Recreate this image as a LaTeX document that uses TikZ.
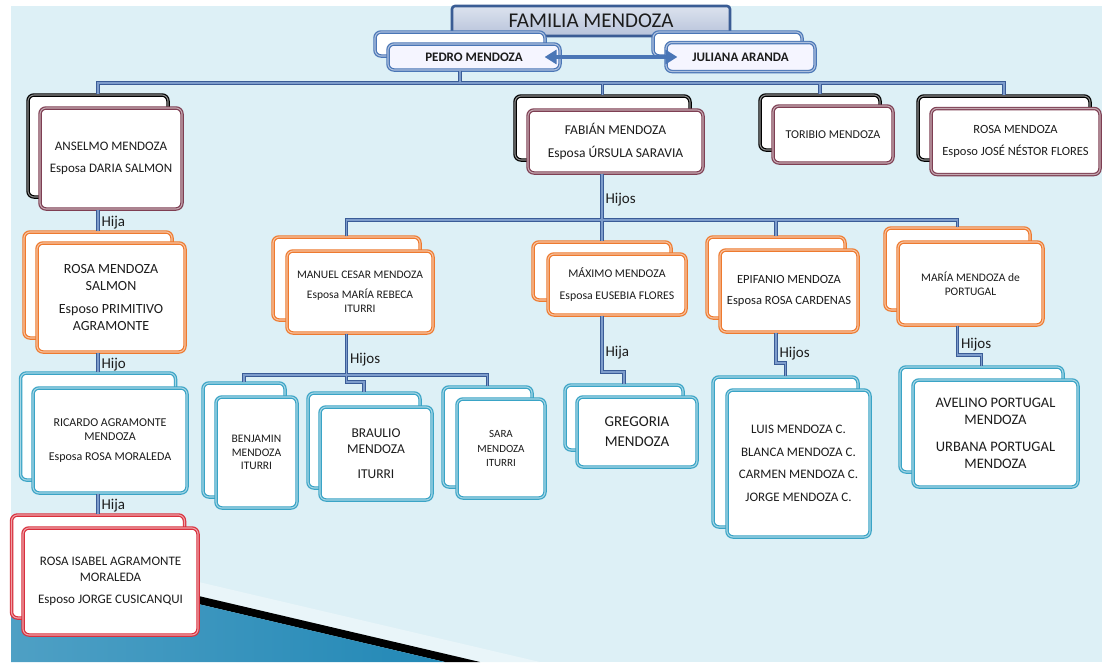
\documentclass[tikz,border=0pt]{standalone}
\usepackage{fontspec}
\setmainfont{Carlito}
\usetikzlibrary{positioning,arrows.meta,calc,backgrounds}
\definecolor{slidebg}{HTML}{DDF0F6}
\definecolor{mzlink}{HTML}{3A5C97}
\definecolor{mzlinkin}{HTML}{7D9CCB}
\definecolor{mzpair}{HTML}{4A76B6}
\definecolor{mztitle}{HTML}{3A5C94}
\definecolor{mztitletop}{HTML}{DCE2EE}
\definecolor{mztitlebot}{HTML}{B7C3DA}
\definecolor{mzmaroon}{HTML}{7E3F53}
\definecolor{mzorange}{HTML}{EE7A2F}
\definecolor{mzcyan}{HTML}{3AA4C6}
\definecolor{mzred}{HTML}{D9303D}
\definecolor{mzteal}{HTML}{2288B6}
\definecolor{mztext}{HTML}{1C1C1C}
\newcommand{\mzsize}[1]{\fontsize{#1}{\fpeval{1.2*#1}}\selectfont}

\begin{document}
\begin{tikzpicture}[
    x=1pt, y=-1pt,
    box/.style={draw=#1, double=#1!45!white, double distance=1.1pt, line width=1.2pt,
        rounded corners=6pt, fill=white, align=center, inner sep=2pt, text=mztext},
    sz/.style={font=\mzsize{#1}},
    titlebox/.style={draw=mztitle, line width=2.6pt, rounded corners=3pt,
        top color=mztitletop, bottom color=mztitlebot, text=mztext},
    link/.style={draw=mzlink, double=mzlinkin, double distance=1.3pt, line width=1.2pt},
    pair/.style={{Triangle[width=14pt,length=12pt]}-{Triangle[width=14pt,length=12pt]},
        draw=mzpair, line width=3.5pt},
    lab/.style={anchor=west, font=\mzsize{15}, text=mztext, inner sep=3pt},
]
\useasboundingbox (0,0) rectangle (1106,662);
\fill[white] (0,0) rectangle (1106,662);

% === Slide background ===
\fill[slidebg] (11,6) rectangle (1102,662);
\fill[white!35!slidebg] (11,538) -- (540,662) -- (480,662) -- (11,552) -- cycle;
\fill[black] (11,552) -- (480,662) -- (445,662) -- (11,560) -- cycle;
\shade[left color=mzteal!80!white, right color=mzteal] (11,560) -- (445,662) -- (11,662) -- cycle;

% === Row 0: title and parents ===
\node[titlebox, minimum width=278pt, minimum height=30pt, font=\mzsize{21}] (title) at (591,21) {FAMILIA MENDOZA};
\node[box=mzpair, minimum width=170pt, minimum height=24pt] (pedrob) at (460,44) {};
\node[box=mzpair, fill=blue!4, minimum width=172pt, minimum height=26pt, font=\mzsize{13}\bfseries] (pedro) at (474,57) {PEDRO MENDOZA};
\node[box=mzpair, minimum width=149pt, minimum height=24pt] (julianab) at (727.5,44) {};
\node[box=mzpair, fill=blue!4, minimum width=149pt, minimum height=29pt, font=\mzsize{13}\bfseries] (juliana) at (740.5,57) {JULIANA ARANDA};
\draw[pair] ([xshift=-16pt]pedro.east) -- ([xshift=12pt]juliana.west);

% === Row 1: children of Pedro ===
\node[box=black, minimum width=140pt, minimum height=102pt] (anselmob) at (98,146) {};
\node[box=mzmaroon, sz=13, minimum width=142pt, minimum height=101pt] (anselmo) at (111,158.5) {ANSELMO MENDOZA\\[6pt]Esposa DARIA SALMON};
\node[box=black, minimum width=175pt, minimum height=64pt] (fabianb) at (602.5,128) {};
\node[box=mzmaroon, sz=13.5, minimum width=175pt, minimum height=63pt] (fabian) at (615.5,141.5) {FABIÁN MENDOZA\\[6pt]Esposa ÚRSULA SARAVIA};
\node[box=black, minimum width=120pt, minimum height=55pt] (toribiob) at (820,122.5) {};
\node[box=mzmaroon, sz=12, minimum width=120pt, minimum height=57pt] (toribio) at (833,134.5) {TORIBIO MENDOZA};
\node[box=black, minimum width=172pt, minimum height=64pt] (rosab) at (1004,128) {};
\node[box=mzmaroon, sz=12.5, minimum width=169pt, minimum height=66pt] (rosa) at (1015.5,141.5) {ROSA MENDOZA\\[7pt]Esposo JOSÉ NÉSTOR FLORES};

% === Row 2: grandchildren ===
\node[box=mzorange, minimum width=148pt, minimum height=106pt] (rosasalmonb) at (98,285) {};
\node[box=mzorange, sz=14, minimum width=148pt, minimum height=109pt] (rosasalmon) at (111,297.5) {ROSA MENDOZA\\SALMON\\[6pt]Esposo PRIMITIVO\\AGRAMONTE};
\node[box=mzorange, minimum width=147pt, minimum height=83pt] (manuelb) at (346.5,278.5) {};
\node[box=mzorange, sz=11.5, minimum width=146pt, minimum height=82pt] (manuel) at (360,292) {MANUEL CESAR MENDOZA\\[6pt]Esposa MARÍA REBECA\\ITURRI};
\node[box=mzorange, minimum width=138pt, minimum height=58pt] (maximob) at (602,271) {};
\node[box=mzorange, sz=11.8, minimum width=138pt, minimum height=61pt] (maximo) at (617,284.5) {MÁXIMO MENDOZA\\[7pt]Esposa EUSEBIA FLORES};
\node[box=mzorange, minimum width=138pt, minimum height=81pt] (epifaniob) at (776,277.5) {};
\node[box=mzorange, sz=12.5, minimum width=138pt, minimum height=82pt] (epifanio) at (789,291) {EPIFANIO MENDOZA\\[6pt]Esposa ROSA CARDENAS};
\node[box=mzorange, minimum width=145pt, minimum height=82pt] (mariab) at (957.5,269) {};
\node[box=mzorange, sz=11.5, minimum width=145pt, minimum height=83pt] (maria) at (970.5,283.5) {MARÍA MENDOZA de\\PORTUGAL};

% === Row 3: great-grandchildren ===
\node[box=mzcyan, minimum width=155pt, minimum height=107pt] (ricardob) at (98,426.5) {};
\node[box=mzcyan, sz=12, minimum width=154pt, minimum height=105pt] (ricardo) at (110,440.5) {RICARDO AGRAMONTE\\MENDOZA\\[6pt]Esposa ROSA MORALEDA};
\node[box=mzcyan, minimum width=82pt, minimum height=114pt] (benjaminb) at (244,440) {};
\node[box=mzcyan, sz=11.5, minimum width=81pt, minimum height=111pt] (benjamin) at (256.5,452.5) {BENJAMIN\\MENDOZA\\ITURRI};
\node[box=mzcyan, minimum width=112pt, minimum height=95pt] (brauliob) at (364,440.5) {};
\node[box=mzcyan, sz=13.5, minimum width=112pt, minimum height=93pt] (braulio) at (376,453.5) {BRAULIO\\MENDOZA\\[9pt]ITURRI};
\node[box=mzcyan, minimum width=89pt, minimum height=100pt] (sarab) at (487.5,437) {};
\node[box=mzcyan, sz=11, minimum width=88pt, minimum height=99pt] (sara) at (501,448.5) {SARA\\[1pt]MENDOZA\\[1pt]ITURRI};
\node[box=mzcyan, minimum width=118pt, minimum height=65pt] (gregoriab) at (624,417.5) {};
\node[box=mzcyan, sz=15, minimum width=120pt, minimum height=70pt] (gregoria) at (637,432) {GREGORIA\\[2pt]MENDOZA};
\node[box=mzcyan, minimum width=145pt, minimum height=150pt] (luisb) at (785.5,452) {};
\node[box=mzcyan, sz=13, minimum width=143pt, minimum height=147pt] (luis) at (798.5,463.5) {LUIS MENDOZA C.\\[7pt]BLANCA MENDOZA C.\\[7pt]CARMEN MENDOZA C.\\[7pt]JORGE MENDOZA C.};
\node[box=mzcyan, minimum width=163pt, minimum height=105pt] (avelinob) at (981.5,419.5) {};
\node[box=mzcyan, sz=14.5, minimum width=165pt, minimum height=107pt] (avelino) at (995.5,433.5) {AVELINO PORTUGAL\\MENDOZA\\[9pt]URBANA PORTUGAL\\MENDOZA};

% === Row 4 ===
\node[box=mzred, minimum width=173pt, minimum height=103pt] (rosaisabelb) at (98,566.5) {};
\node[box=mzred, sz=13, minimum width=175pt, minimum height=107pt] (rosaisabel) at (110.5,581.5) {ROSA ISABEL AGRAMONTE\\MORALEDA\\[7pt]Esposo JORGE CUSICANQUI};

% === Connectors (one path, so the joints merge) ===
\coordinate (famhub) at (460,83);
\coordinate (fabhub) at (602,220);
\coordinate (manhub) at (346.5,375);
\coordinate (maxhub) at (602,372);
\coordinate (epihub) at (776,363);
\coordinate (marhub) at (957.5,355);
\draw[link]
    (famhub |- pedro.south) -- (famhub)
    (anselmob.north) |- (famhub) -| (rosab.north)
    (famhub -| fabianb.north) -- (fabianb.north)
    (famhub -| toribiob.north) -- (toribiob.north)
    % Fabián's children
    (fabhub |- fabian.south) -- node[lab, pos=0.57] {Hijos} (fabhub) -- (maximob.north)
    (manuelb.north) |- (fabhub) -| (mariab.north)
    (fabhub -| epifaniob.north) -- (epifaniob.north)
    % Manuel's children
    (manhub |- manuel.south) -- node[lab, pos=0.62] {Hijos} (manhub) -- ++(0,7) -| (brauliob.north)
    (benjaminb.north) |- (manhub) -| (sarab.north)
    % the other families
    (maxhub |- maximo.south) -- node[lab, pos=0.65] {Hija} (maxhub) -| (gregoriab.north)
    (epihub |- epifanio.south) -- node[lab, pos=0.7] {Hijos} (epihub) -| (luisb.north)
    (marhub |- maria.south) -- node[lab, pos=0.65] {Hijos} (marhub) -| (avelinob.north)
    (rosasalmonb.north |- anselmo.south) -- node[lab, pos=0.6] {Hija} (rosasalmonb.north)
    (ricardob.north |- rosasalmon.south) -- node[lab, pos=0.6] {Hijo} (ricardob.north)
    (rosaisabelb.north |- ricardo.south) -- node[lab, pos=0.6] {Hija} (rosaisabelb.north);

\end{tikzpicture}
\end{document}
